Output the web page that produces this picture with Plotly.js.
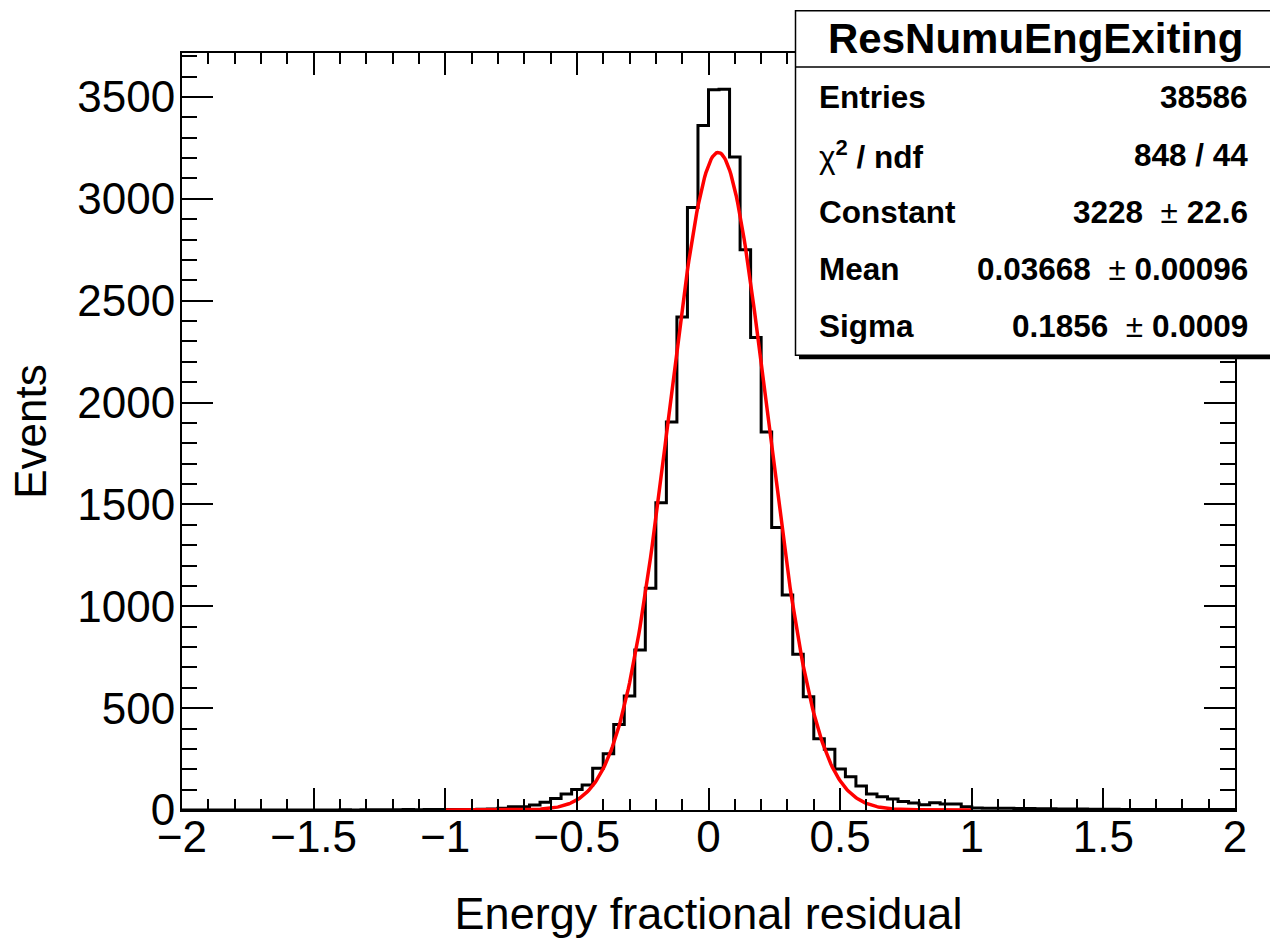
<!DOCTYPE html>
<html>
<head>
<meta charset="utf-8">
<script src="https://cdn.plot.ly/plotly-3.0.1.min.js"></script>
<style>html,body{margin:0;padding:0;background:#fff;} #chart{width:1270px;height:939px;}</style>
</head>
<body>
<div id="chart"></div>
<script>
// ---- Histogram definition: 100 bins of width 0.04 from -2 to 2 ----
const binLow = -2.0;
const binWidth = 0.04;
const counts = [
  // -2.00 .. -1.04
  0, 0, 0, 0, 0, 0, 0, 0, 0, 0,
  0, 0, 0, 0, 0, 1, 0, 1, 1, 1,
  1, 2, 1, 2, 2,
  // -1.00 .. -0.52
  2, 3, 3, 4, 5, 8, 16, 16, 25, 38, 57, 79,
  // -0.52 .. 0.00
  101, 123, 205, 276, 420, 559, 785, 1088, 1508, 1905, 2420, 2957, 3360,
  // 0.00 .. 0.52
  3536, 3538, 3205, 2750, 2320, 1856, 1387, 1055, 764, 556, 350, 298, 201,
  // 0.52 .. 1.00
  163, 118, 79, 65, 54, 42, 34, 26, 36, 30, 30, 16,
  // 1.00 .. 2.00
  10, 9, 8, 8, 7, 7, 6, 6, 5, 5, 5, 4, 4, 4, 3, 3, 3, 3, 2, 2, 2, 2, 2, 2, 2
];

// ---- Gaussian fit parameters (from the stats box), fit range ----
const fitConstant = 3228;
const fitMean = 0.03668;
const fitSigma = 0.1856;
const fitRange = [-1, 1];

// ---- Stats box text ----
const statsTitle = "ResNumuEngExiting";
const statsLabels = ["Entries", "χ<sup><b>2</b></sup><b> / ndf</b>", "Constant", "Mean", "Sigma"];
const statsValues = ["38586", "848 / 44", "3228  ± 22.6", "0.03668  ± 0.00096", "0.1856  ± 0.0009"];

// ---- Axis titles ----
const xTitle = "Energy fractional residual";
const yTitle = "Events";

// build step outline from bins
const edgesX = [];
const stepY = [];
for (let i = 0; i <= counts.length; i++) {
  edgesX.push(binLow + i * binWidth);
  stepY.push(counts[Math.min(i, counts.length - 1)]);
}

// fit curve evaluated from the fit parameters
const fitX = [], fitY = [];
const nFit = 400;
for (let i = 0; i <= nFit; i++) {
  const x = fitRange[0] + (fitRange[1] - fitRange[0]) * i / nFit;
  fitX.push(x);
  fitY.push(fitConstant * Math.exp(-0.5 * Math.pow((x - fitMean) / fitSigma, 2)));
}

// pixel geometry helpers for the stats box (plot area 182..1235 x 52.7..810)
const L = 182, R = 1235, T = 52.7, B = 810;
const px = v => (v - L) / (R - L);
const py = v => (B - v) / (B - T);

const FONT = "Liberation Sans, Arial, Helvetica, sans-serif";

const traces = [
  {
    x: edgesX, y: stepY, type: "scatter", mode: "lines",
    line: {shape: "hv", color: "black", width: 3},
    hoverinfo: "skip", showlegend: false
  },
  {
    x: fitX, y: fitY, type: "scatter", mode: "lines",
    line: {color: "#ff0000", width: 3.5},
    hoverinfo: "skip", showlegend: false
  }
];

const shapes = [
  // shadow
  {type: "rect", xref: "paper", yref: "paper", layer: "above",
   x0: px(799), x1: px(1290), y0: py(359), y1: py(14),
   fillcolor: "black", line: {width: 0}},
  // box
  {type: "rect", xref: "paper", yref: "paper", layer: "above",
   x0: px(795.5), x1: px(1285), y0: py(355), y1: py(10.5),
   fillcolor: "white", line: {color: "black", width: 1.5}},
  // separator under title
  {type: "line", xref: "paper", yref: "paper", layer: "above",
   x0: px(795.5), x1: px(1285), y0: py(66.7), y1: py(66.7),
   line: {color: "black", width: 1.5}}
];

const rowY = [97, 155, 212, 269, 326];
const annotations = [
  {xref: "paper", yref: "paper", x: px(1035), y: py(38), xanchor: "center", yanchor: "middle",
   text: "<b>" + statsTitle + "</b>", showarrow: false,
   font: {family: FONT, size: 42, color: "black"}}
];
for (let i = 0; i < statsLabels.length; i++) {
  const lab = statsLabels[i].indexOf("<") >= 0 ? statsLabels[i] : "<b>" + statsLabels[i] + "</b>";
  annotations.push({xref: "paper", yref: "paper", x: px(817), y: py(rowY[i]),
    xanchor: "left", yanchor: "middle", text: lab, showarrow: false,
    font: {family: FONT, size: 31.5, color: "black"}});
  const val = statsValues[i].split("  ± ");
  const valText = val.length > 1
    ? "<b>" + val[0] + "</b>\u00a0\u00a0±\u00a0<b>" + val[1] + "</b>"
    : "<b>" + val[0] + "</b>";
  annotations.push({xref: "paper", yref: "paper", x: px(1250), y: py(rowY[i]),
    xanchor: "right", yanchor: "middle", text: valText, showarrow: false,
    font: {family: FONT, size: 31.5, color: "black"}});
}

const layout = {
  width: 1270, height: 939,
  margin: {l: L, r: 1270 - R, t: T, b: 939 - B, pad: 0},
  paper_bgcolor: "white", plot_bgcolor: "white",
  font: {family: FONT, color: "black", size: 44},
  showlegend: false,
  xaxis: {
    range: [-2, 2], dtick: 0.5, tick0: -2,
    ticks: "inside", ticklen: 22, tickwidth: 2, tickcolor: "black",
    minor: {dtick: 0.1, ticks: "inside", ticklen: 11, tickwidth: 2, tickcolor: "black"},
    showline: true, linecolor: "black", linewidth: 2, mirror: "ticks",
    showgrid: false, zeroline: false,
    tickfont: {family: FONT, size: 44, color: "black"},
    ticklabelstandoff: -13,
    title: {text: xTitle, font: {family: FONT, size: 45, color: "black"}, standoff: 49},
    automargin: false
  },
  yaxis: {
    range: [0, 3716], dtick: 500, tick0: 0,
    ticks: "inside", ticklen: 31, tickwidth: 2, tickcolor: "black",
    minor: {dtick: 100, ticks: "inside", ticklen: 15, tickwidth: 2, tickcolor: "black"},
    showline: true, linecolor: "black", linewidth: 2, mirror: "ticks",
    showgrid: false, zeroline: false,
    tickfont: {family: FONT, size: 44, color: "black"},
    ticklabelstandoff: -4,
    title: {text: yTitle, font: {family: FONT, size: 44, color: "black"}, standoff: 17},
    automargin: false
  },
  shapes: shapes,
  annotations: annotations
};

Plotly.newPlot("chart", traces, layout, {staticPlot: true, displayModeBar: false});
</script>
</body>
</html>
